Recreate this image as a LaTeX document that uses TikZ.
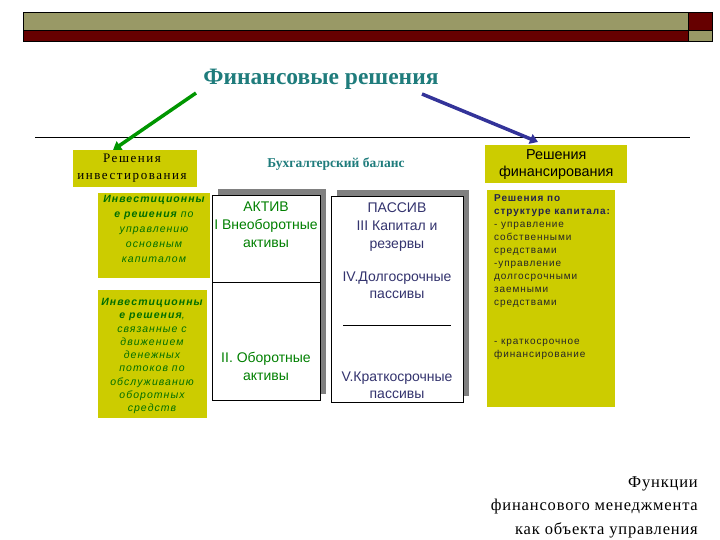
\documentclass[tikz,border=0pt]{standalone}
\usepackage{fontspec}
\setmainfont{Liberation Serif}
\setsansfont{Liberation Sans}
\usetikzlibrary{arrows.meta}
\definecolor{olivebar}{RGB}{153,153,102}
\definecolor{darkred}{RGB}{102,0,0}
\definecolor{yellowbox}{RGB}{204,204,0}
\definecolor{tealtitle}{RGB}{31,124,124}
\definecolor{greentext}{RGB}{0,110,0}
\definecolor{aktivgreen}{RGB}{0,128,0}
\definecolor{navytext}{RGB}{51,51,110}
\definecolor{arrowgreen}{RGB}{0,150,0}
\definecolor{arrowblue}{RGB}{51,51,153}
\definecolor{shadowgray}{RGB}{128,128,128}
\tikzset{
  barbox/.style={draw=black, line width=0.8pt, inner sep=0pt},
  ybox/.style={fill=yellowbox, inner sep=0pt},
  wbox/.style={draw=black, fill=white, line width=0.8pt, inner sep=0pt},
  shadowbox/.style={fill=shadowgray, inner sep=0pt},
  fatarrow/.style={line width=3.5pt, -{Triangle[length=8pt,width=10pt]}},
  lbl/.style={inner sep=0pt, align=center},
}
\begin{document}
\begin{tikzpicture}[x=1pt,y=-1pt]
\useasboundingbox (0,0) rectangle (720,540);
% header bar
\node[barbox, fill=olivebar, minimum width=665pt, minimum height=18pt, anchor=north west] (hb1) at (23,12) {};
\node[barbox, fill=darkred, minimum width=665pt, minimum height=11pt, anchor=north west] (hb2) at (23,30) {};
\node[barbox, fill=darkred, minimum width=24pt, minimum height=18pt, anchor=north west] (hb3) at (688,12) {};
\node[barbox, fill=olivebar, minimum width=24pt, minimum height=11pt, anchor=north west] (hb4) at (688,30) {};
% title
\node[lbl, font=\fontsize{23.5}{28}\selectfont\bfseries, text=tealtitle] (title) at (321,79) {Финансовые решения};
% rule
\coordinate (rl) at (35,137);
\coordinate (rr) at (690,137);
\draw[line width=0.8pt] (rl) -- (rr);
% left top box
\node[ybox, minimum width=124pt, minimum height=37pt, anchor=north west] (inv) at (73,150) {};
\node[lbl, font=\fontsize{13}{17}\selectfont\addfontfeatures{LetterSpace=12}] (invt) at (132,168.5) {Решения\\инвестирования};
% balance title
\node[lbl, font=\fontsize{13.5}{16}\selectfont\bfseries, text=tealtitle] (bal) at (336,164) {Бухгалтерский баланс};
% left lower boxes
\node[ybox, minimum width=112pt, minimum height=85pt, anchor=north west] (ib1) at (98,193) {};
\node[lbl, font=\fontsize{10.5}{15}\selectfont\sffamily\itshape\addfontfeatures{LetterSpace=10}, text=greentext] (ib1t) at (154,229) {\textbf{Инвестиционны}\\\textbf{е решения} по\\управлению\\основным\\капиталом};
\node[ybox, minimum width=109pt, minimum height=128pt, anchor=north west] (ib2) at (98,290) {};
\node[lbl, font=\fontsize{10.5}{13.25}\selectfont\sffamily\itshape\addfontfeatures{LetterSpace=10}, text=greentext] (ib2t) at (152,356) {\textbf{Инвестиционны}\\\textbf{е решения},\\связанные с\\движением\\денежных\\потоков по\\обслуживанию\\оборотных\\средств};
% AKTIV
\node[shadowbox, minimum width=108pt, minimum height=205pt, anchor=north west] (aks) at (218,189) {};
\node[wbox, minimum width=108pt, minimum height=205pt, anchor=north west] (ak) at (212,195) {};
\coordinate (akl) at (212,282);
\coordinate (akr) at (320,282);
\draw[line width=0.8pt] (akl) -- (akr);
\node[lbl, font=\fontsize{14}{18}\selectfont\sffamily, text=aktivgreen, anchor=north] (akt1) at (266,202) {АКТИВ\\I Внеоборотные\\активы};
\node[lbl, font=\fontsize{14}{18}\selectfont\sffamily, text=aktivgreen, anchor=north] (akt2) at (266,352) {II. Оборотные\\активы};
% PASSIV
\node[shadowbox, minimum width=132pt, minimum height=206pt, anchor=north west] (pss) at (337,190) {};
\node[wbox, minimum width=132pt, minimum height=206pt, anchor=north west] (ps) at (331,196) {};
\coordinate (psl) at (343,325);
\coordinate (psr) at (451,325);
\draw[line width=0.6pt] (psl) -- (psr);
\node[lbl, font=\fontsize{14}{18}\selectfont\sffamily, text=navytext, anchor=north] (pst1) at (397,203) {ПАССИВ\\III Капитал и\\резервы};
\node[lbl, font=\fontsize{14}{17}\selectfont\sffamily, text=navytext, anchor=north] (pst2) at (397,272) {IV.Долгосрочные\\пассивы};
\node[lbl, font=\fontsize{14}{17}\selectfont\sffamily, text=navytext, anchor=north] (pst3) at (397,372) {V.Краткосрочные\\пассивы};
% right boxes
\node[ybox, minimum width=142pt, minimum height=38pt, anchor=north west] (fin) at (485,145) {};
\node[lbl, font=\fontsize{14.4}{17}\selectfont\sffamily] (fint) at (fin.center) {Решения\\финансирования};
\node[ybox, minimum width=128pt, minimum height=217pt, anchor=north west] (fb) at (487,190) {};
\node[inner sep=0pt, align=left, anchor=north west, font=\fontsize{10}{13}\selectfont\sffamily\addfontfeatures{LetterSpace=9}, text=black!85] (fbt) at (494,194) {\textbf{\color{navytext!70!black}Решения по}\\\textbf{\color{navytext!70!black}структуре капитала:}\\- управление\\собственными\\средствами\\-управление\\долгосрочными\\заемными\\средствами\\\\\\- краткосрочное\\финансирование};
% arrows
\coordinate (ga) at (196,93);
\coordinate (gb) at (113,150);
\draw[fatarrow, arrowgreen] (ga) -- (gb);
\coordinate (ba) at (422,94);
\coordinate (bb) at (538,142);
\draw[fatarrow, arrowblue] (ba) -- (bb);
% bottom right
\node[inner sep=0pt, align=right, anchor=east, font=\fontsize{16.5}{23.5}\selectfont\addfontfeatures{LetterSpace=5}] (fn) at (698,507) {Функции\\финансового менеджмента\\как объекта управления};
\end{tikzpicture}
\end{document}
